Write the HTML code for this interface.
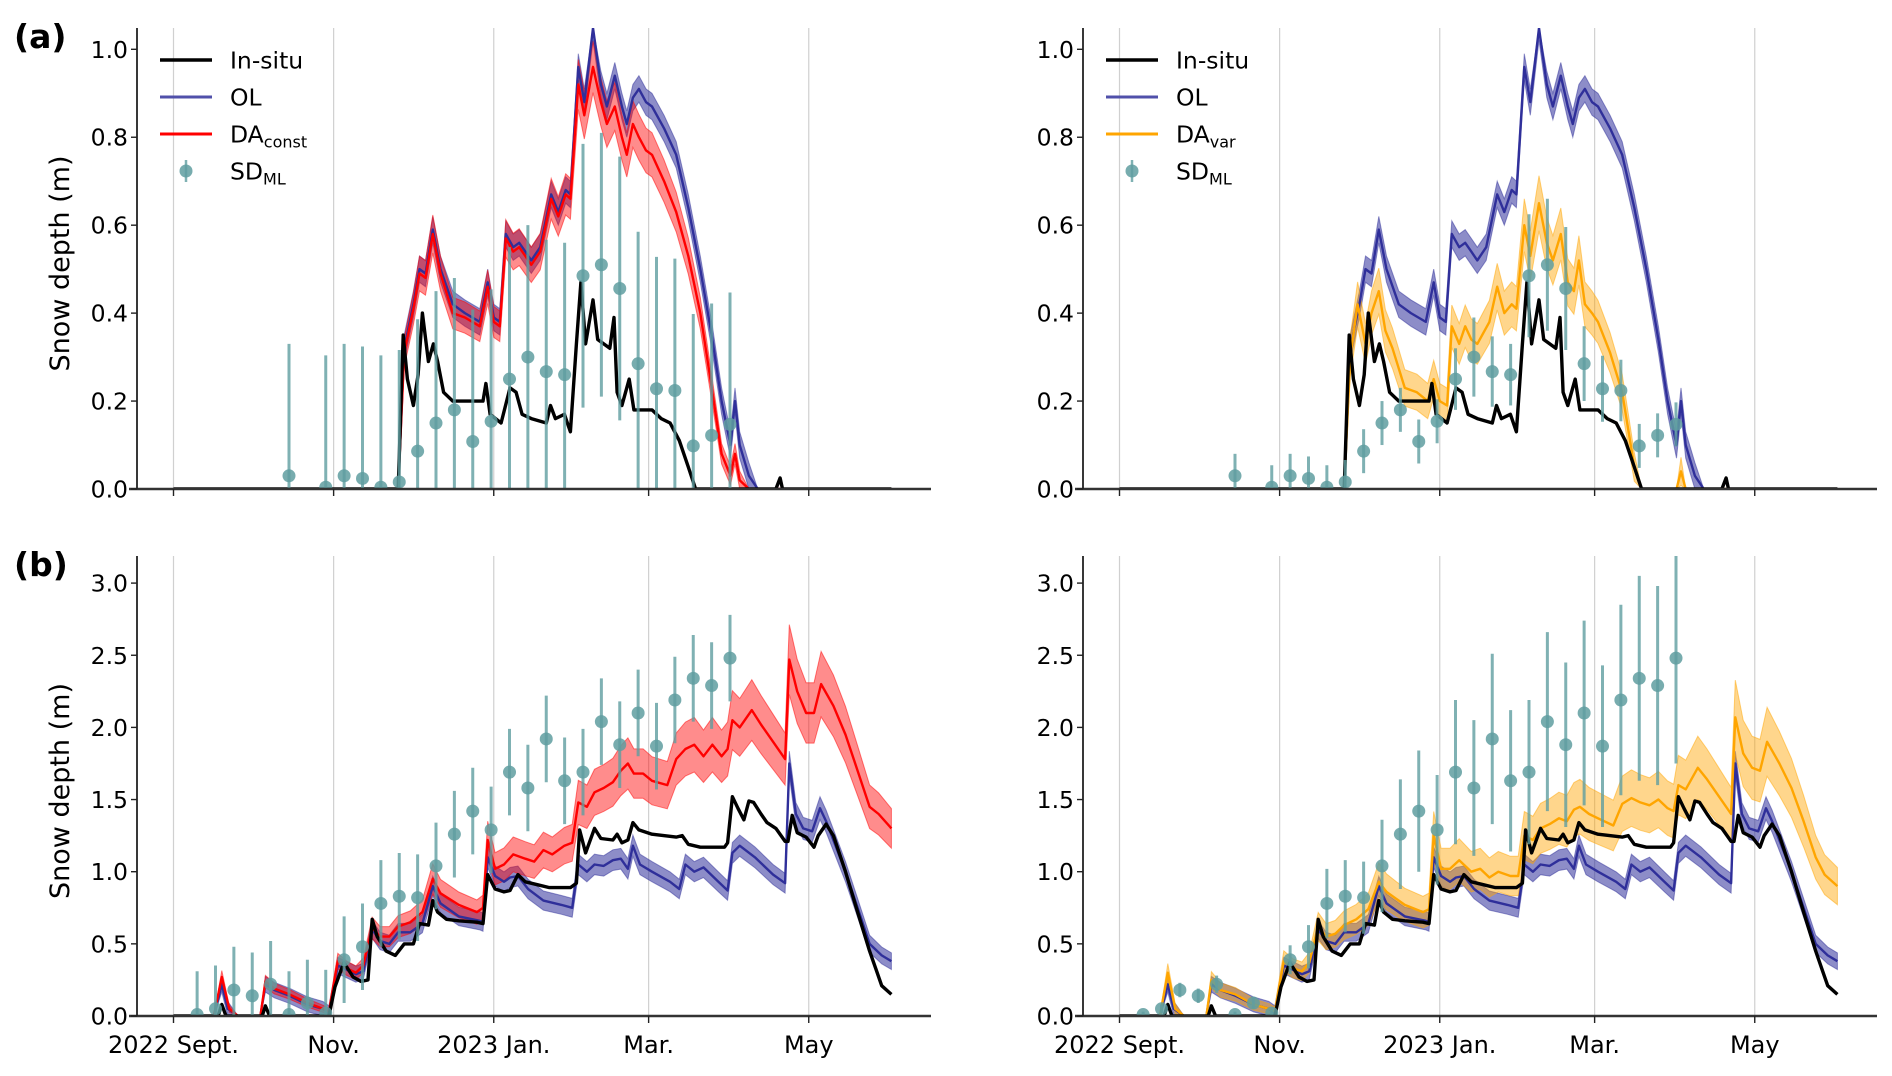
<!DOCTYPE html>
<html><head><meta charset="utf-8"><style>
html,body{margin:0;padding:0;background:#fff;}
svg{display:block;font-family:"DejaVu Sans","Liberation Sans",sans-serif;}
</style></head><body>
<svg id="fig" width="1892" height="1076" viewBox="0 0 1892 1076" xmlns="http://www.w3.org/2000/svg"></svg>
<script>
// ---- data (day index from 2022-09-01, snow depth in m) ----
const monthTickDays = [0, 61, 122, 181, 242];
const monthTickLabels = ["2022 Sept.", "Nov.", "2023 Jan.", "Mar.", "May"];
const topYTicks = [0, 0.2, 0.4, 0.6, 0.8, 1.0];
const botYTicks = [0, 0.5, 1.0, 1.5, 2.0, 2.5, 3.0];

const insituTopDays = [0,85.6,87.5,89.1,91.4,93.2,94.8,97.1,99,100.6,102.9,106.4,117.9,119,120.6,124.8,128.2,130.5,132.8,136.3,142,143.6,145.5,148.9,151.2,153.5,155.2,157,159.8,161.6,166.2,167.8,169,170.8,173.6,175.4,182.3,185.8,189.2,192.7,196.1,198.9,229.5,231.1,232,273.5];
const insituTopVals = [0,0,0.35,0.25,0.19,0.26,0.40,0.29,0.33,0.29,0.22,0.20,0.20,0.24,0.17,0.15,0.23,0.22,0.17,0.16,0.15,0.19,0.16,0.17,0.13,0.33,0.47,0.33,0.43,0.34,0.32,0.39,0.22,0.19,0.25,0.18,0.18,0.16,0.15,0.11,0.05,0,0,0.025,0,0];

const olTopDays = [0,85.6,87.9,91.4,93.7,96,98.8,101.7,106.4,111,116.7,119.7,122,124.3,126.6,129.4,131.7,134,136.3,139.7,143.9,146.6,149.4,151.2,154.2,156.5,159.8,162.8,165.1,168.1,170.8,172.7,175,177.3,180,182.3,186.9,191.5,196.1,200.7,205.3,208.8,212.2,213.9,215.7,219.2,222.6,273.5];
const olTopVals = [0,0,.32,.42,.50,.49,.59,.50,.42,.40,.38,.47,.39,.38,.58,.55,.56,.54,.52,.55,.67,.63,.68,.67,.96,.88,1.05,.92,.87,.94,.87,.83,.89,.91,.88,.87,.82,.76,.64,.50,.34,.20,.10,.20,.10,.03,0,0];
const daConstTopVals = [0,0,.31,.41,.49,.48,.58,.49,.40,.39,.37,.46,.38,.37,.57,.54,.55,.53,.51,.54,.66,.62,.67,.66,.92,.85,.96,.88,.83,.87,.80,.76,.83,.80,.77,.76,.70,.63,.53,.40,.22,.08,.03,.08,.02,0,0,0];

const daVarTopDays = [0,85.6,87.9,90.7,93.7,96,98.8,101.3,104,108.7,113.3,117.4,119.7,122,124.8,126.6,129.4,131.7,134,136.3,140.9,143.9,146.6,149.4,151.2,154.2,156.5,159.8,162.8,165.1,168.1,170.8,173.1,175,177.3,180,182.3,186.9,191.5,196.1,198.9,212.2,213.9,215.7,273.5];
const daVarTopVals = [0,0,.30,.42,.33,.40,.45,.36,.32,.23,.22,.20,.25,.20,.19,.37,.33,.37,.34,.33,.38,.46,.40,.42,.41,.60,.53,.65,.56,.52,.58,.47,.45,.52,.42,.40,.38,.31,.22,.05,0,0,.04,0,0];

const insituBotDays = [0,17,18.4,20,33.8,35,36.6,59.2,61.5,64.9,68.4,71.4,74.1,75.7,77.6,81,84.5,87.9,91.4,93.7,97.1,98.8,100.6,104,108.7,115.6,117.9,119.7,122.5,125.9,128.2,131.2,134,138.6,143.2,151.2,153.5,154.7,157,160.4,162.8,167.4,169,170.8,173.1,175,177.3,182.3,191.5,193.8,196.1,200.7,209.9,211.1,212.9,215,217.3,219.2,221,223.8,226.1,229.5,233,234.1,235.7,237.6,241,244,245.6,248.6,251.4,256,260.6,265.2,267.5,269.8,273.5];
const insituBotVals = [0,0,.08,0,0,.07,0,0,.2,.37,.27,.24,.25,.67,.55,.45,.42,.50,.50,.64,.63,.80,.72,.67,.66,.65,.64,.98,.88,.86,.87,.98,.93,.91,.89,.89,.92,1.29,1.13,1.30,1.23,1.22,1.26,1.20,1.22,1.34,1.29,1.26,1.24,1.25,1.19,1.17,1.17,1.20,1.52,1.44,1.36,1.49,1.48,1.40,1.34,1.30,1.21,1.21,1.39,1.27,1.24,1.17,1.25,1.33,1.25,1.00,.72,.45,.33,.21,.15];

const olBotDays = [0,15.4,18.4,20.7,24.6,33.1,35,38.4,44.2,51.1,56.9,59.2,62.6,66.1,69.5,72.3,75.7,78.7,82.2,85.6,90.2,94.8,98.8,101.7,108.7,116.7,117.9,119.7,122.5,125.9,128.2,131.2,135.1,140.9,147.8,151.9,154.2,157.5,160.4,163.9,167.4,170.4,173.1,175,177.7,182.3,189.2,192.7,195,198.4,201.9,207.6,211.1,212.9,215.7,221.5,228.4,233,234.6,237.1,239.9,243.3,246.3,248.6,256,260.6,265.2,269.8,273.5];
const olBotVals = [0,0,.22,.05,0,0,.22,.18,.14,.08,.05,.02,.35,.32,.29,.31,.60,.52,.50,.58,.58,.64,.90,.78,.69,.66,.65,1.10,.97,.93,.96,.97,.88,.80,.77,.75,1.05,1.00,1.05,1.04,1.08,1.09,1.02,1.18,1.05,1.00,.93,.88,1.05,1.00,1.03,.93,.87,1.13,1.18,1.10,.98,.92,1.75,1.40,1.30,1.28,1.44,1.35,1.00,.75,.50,.42,.38];

const daBotDays = [0,15.4,18.4,21.2,24.6,33.1,35,38.4,44.2,51.1,56.9,59.2,62.6,66.1,69.5,72.3,75.7,78.7,82.2,85.6,90.2,94.8,98.8,101.7,108.7,115.6,117.9,119.7,122.5,125.9,129.4,134,137.4,140.9,144.3,148.9,151.9,154.2,157.5,160.4,163.9,167.4,170.4,173.1,175.4,178.9,182.3,188.1,191.5,195,198.4,201.9,205.3,208.8,211.1,212.9,215.7,220.3,223.8,228.4,233,234.6,237.6,241,244,246.7,251.4,256,260.6,265.2,268.6,273.5];
const daConstBotVals = [0,0,.27,.05,0,0,.24,.19,.15,.09,.05,.03,.38,.33,.30,.35,.61,.55,.55,.62,.65,.72,.95,.85,.77,.72,.75,1.22,1.02,1.05,1.12,1.09,1.07,1.15,1.12,1.18,1.20,1.48,1.45,1.55,1.58,1.62,1.70,1.75,1.68,1.68,1.63,1.60,1.78,1.85,1.88,1.80,1.88,1.80,1.85,2.05,2.00,2.12,2.02,1.90,1.78,2.47,2.25,2.10,2.10,2.30,2.15,1.95,1.70,1.45,1.40,1.30];
const daVarBotVals = [0,0,.30,.05,0,0,.25,.18,.15,.08,.05,.03,.38,.33,.31,.37,.62,.55,.57,.63,.67,.74,.93,.86,.77,.72,.74,1.25,1.02,1.02,1.08,1.00,1.02,.96,1.00,.97,.97,1.25,1.22,1.30,1.33,1.37,1.35,1.43,1.45,1.40,1.37,1.32,1.47,1.51,1.48,1.46,1.50,1.44,1.42,1.60,1.57,1.72,1.64,1.52,1.40,2.07,1.82,1.72,1.70,1.90,1.75,1.58,1.35,1.10,.98,.90];

const sdTopDays = [44,58,65,72,79,86,93,100,107,114,121,128,135,142,149,156,163,170,177,184,191,198,205,212];
const sdTopVals = [0.03,0.004,0.03,0.024,0.004,0.016,0.086,0.15,0.18,0.108,0.154,0.25,0.30,0.267,0.26,0.485,0.51,0.456,0.285,0.228,0.224,0.098,0.122,0.147];
const sdTopErrVar = [0.05,0.05,0.05,0.05,0.05,0.05,0.05,0.05,0.05,0.05,0.05,0.07,0.09,0.08,0.07,0.14,0.15,0.14,0.085,0.075,0.07,0.05,0.05,0.05];
const sdBotDays = [9,16,23,30,37,44,51,58,65,72,79,86,93,100,107,114,121,128,135,142,149,156,163,170,177,184,191,198,205,212];
const sdBotVals = [0.01,0.05,0.18,0.14,0.22,0.01,0.09,0.02,0.39,0.48,0.78,0.83,0.82,1.04,1.26,1.42,1.29,1.69,1.58,1.92,1.63,1.69,2.04,1.88,2.10,1.87,2.19,2.34,2.29,2.48];
const sdBotErrVar = [0.02,0.03,0.05,0.05,0.06,0.02,0.04,0.03,0.1,0.15,0.24,0.25,0.25,0.32,0.38,0.42,0.38,0.5,0.47,0.59,0.49,0.5,0.62,0.57,0.64,0.56,0.66,0.71,0.69,0.73];
const sdConstErr = 0.3;

// ---- drawing ----
const NS = "http://www.w3.org/2000/svg";
const svg = document.getElementById("fig");
function mk(tag, attrs, parent) {
  const e = document.createElementNS(NS, tag);
  for (const k in attrs) e.setAttribute(k, attrs[k]);
  (parent || svg).appendChild(e);
  return e;
}
const C_OL = "#2f2f9a", C_RED = "#ff0000", C_ORG = "#ffa500", C_SD = "#5f9ea0";

function makePanel(off, isTop, daDays, daVals, daColor, daLabel, sdDays, sdVals, sdErr, panelLabel, showX, bandOL, bandDA) {
  const y0 = isTop ? 489 : 1016;
  const ppu = isTop ? 439.7 : 144.3;
  const yTop = isTop ? 28 : 556;
  const ymax = (y0 - yTop) / ppu;
  const xs = d => 173.5 + off + d * 2.625;
  const ys = v => y0 - Math.min(v, ymax) * ppu;
  const axL = 137 + off, axR = 931 + off;
  const g = mk("g", {});
  
  
  const cid = "clip" + off + (isTop ? "t" : "b");
  const cp = mk("clipPath", {id: cid}, g);
  mk("rect", {x: axL, y: yTop, width: axR - axL, height: y0 - yTop}, cp);
  monthTickDays.forEach(d => {
    const l = mk("line", {x1: xs(d), x2: xs(d), y1: yTop, y2: y0, stroke: "#d0d0d0", "stroke-width": 1.2}, g);
    
    
  });
  const plot = mk("g", {"clip-path": "url(#" + cid + ")"}, g);
  function band(days, vals, hw, color, op, name) {
    let up = [], lo = [];
    for (let i = 0; i < days.length; i++) {
      const h = hw[0] + hw[1] * vals[i];
      up.push(xs(days[i]).toFixed(1) + "," + ys(vals[i] + (vals[i] > 0 ? h : 0)).toFixed(1));
      lo.push(xs(days[i]).toFixed(1) + "," + ys(Math.max(0, vals[i] - h)).toFixed(1));
    }
    const p = mk("polygon", {points: up.concat(lo.reverse()).join(" "), fill: color, "fill-opacity": op, stroke: color, "stroke-opacity": 0.5, "stroke-width": 1}, plot);
    
    
  }
  function line(days, vals, color, w, name) {
    const pts = days.map((d, i) => xs(d).toFixed(1) + "," + ys(vals[i]).toFixed(1)).join(" ");
    const p = mk("polyline", {points: pts, fill: "none", stroke: color, "stroke-width": w, "stroke-linejoin": "round"}, plot);
    
    
  }
  const olD = isTop ? olTopDays : olBotDays, olV = isTop ? olTopVals : olBotVals;
  const inD = isTop ? insituTopDays : insituBotDays, inV = isTop ? insituTopVals : insituBotVals;
  band(olD, olV, bandOL, C_OL, 0.55, "ol-band");
  band(daDays, daVals, bandDA, daColor, 0.45, "da-band");
  line(olD, olV, C_OL, 2.4, "ol-line");
  line(daDays, daVals, daColor, 2.4, "da-line");
  line(inD, inV, "#000", 3.4, "insitu-line");
  sdDays.forEach((d, i) => {
    const e = Array.isArray(sdErr) ? sdErr[i] : sdErr;
    const x = xs(d);
    const b = mk("line", {x1: x, x2: x, y1: ys(sdVals[i] + e), y2: ys(Math.max(0, sdVals[i] - e)), stroke: C_SD, "stroke-width": 3, "stroke-opacity": 0.8}, plot);
    
    
    const c = mk("circle", {cx: x, cy: ys(sdVals[i]), r: 6.5, fill: C_SD, "fill-opacity": 0.85}, plot);
    
    
  });
  const ax = mk("line", {x1: 129 + off, x2: axR, y1: y0, y2: y0, stroke: "#333", "stroke-width": 2.6}, g);
  
  
  const ay = mk("line", {x1: axL, x2: axL, y1: yTop, y2: y0, stroke: "#222", "stroke-width": 1.8}, g);
  
  
  const yt = isTop ? topYTicks : botYTicks;
  yt.forEach(v => {
    mk("line", {x1: axL - 6, x2: axL, y1: ys(v), y2: ys(v), stroke: "#222", "stroke-width": 1.4}, g);
    const t = mk("text", {x: axL - 9, y: ys(v) + 8.5, "text-anchor": "end", "font-size": 23.5, fill: "#000"}, g);
    t.textContent = v.toFixed(1);
    
    
  });
  monthTickDays.forEach((d, i) => {
    mk("line", {x1: xs(d), x2: xs(d), y1: y0, y2: y0 + 7, stroke: "#222", "stroke-width": 1.4}, g);
    if (showX) {
      const t = mk("text", {x: xs(d), y: y0 + 37, "text-anchor": "middle", "font-size": 24, fill: "#000"}, g);
      t.textContent = monthTickLabels[i];
      
      
    }
  });
  if (!off) {
    const yl = mk("text", {x: 0, y: 0, transform: "translate(69," + ((y0 + yTop) / 2 + 5) + ") rotate(-90)", "text-anchor": "middle", "font-size": 27, fill: "#000"}, g);
    yl.textContent = "Snow depth (m)";
    
    
    const pl = mk("text", {x: 14, y: yTop + 20, "font-size": 33, "font-weight": "bold", fill: "#000"}, g);
    pl.textContent = panelLabel;
    
    
  }
  if (isTop) {
    const lg = mk("g", {}, g);
    
    
    const rows = [["In-situ", "#000", 3.5], ["OL", "#5050aa", 3], [daLabel, daColor, 3], ["SD", C_SD, 0]];
    rows.forEach((r, i) => {
      const yy = 60 + i * 37;
      if (r[2]) {
        mk("line", {x1: 160 + off, x2: 212 + off, y1: yy, y2: yy, stroke: r[1], "stroke-width": r[2]}, lg);
      } else {
        mk("line", {x1: 186 + off, x2: 186 + off, y1: yy - 11, y2: yy + 11, stroke: C_SD, "stroke-width": 2.5, "stroke-opacity": 0.8}, lg);
        mk("circle", {cx: 186 + off, cy: yy, r: 6.5, fill: C_SD, "fill-opacity": 0.85}, lg);
      }
      const t = mk("text", {x: 230 + off, y: yy + 8.5, "font-size": 23.5, fill: "#000"}, lg);
      
      
      if (i === 2) {
        t.textContent = "DA";
        const s = mk("tspan", {"font-size": 16, dy: 5}, t); s.textContent = daLabel;
      } else if (i === 3) {
        t.textContent = "SD";
        const s = mk("tspan", {"font-size": 16, dy: 5}, t); s.textContent = "ML";
      } else t.textContent = r[0];
    });
  }
}

makePanel(0, true, olTopDays, daConstTopVals, C_RED, "const", sdTopDays, sdTopVals, sdConstErr, "(a)", false, [0.03, 0], [0.02, 0.04]);
makePanel(946, true, daVarTopDays, daVarTopVals, C_ORG, "var", sdTopDays, sdTopVals, sdTopErrVar, "", false, [0.03, 0], [0.03, 0.05]);
makePanel(0, false, daBotDays, daConstBotVals, C_RED, "const", sdBotDays, sdBotVals, sdConstErr, "(b)", true, [0.05, 0.02], [0.02, 0.09]);
makePanel(946, false, daBotDays, daVarBotVals, C_ORG, "var", sdBotDays, sdBotVals, sdBotErrVar, "", true, [0.05, 0.02], [0.03, 0.11]);
</script>
</body></html>
